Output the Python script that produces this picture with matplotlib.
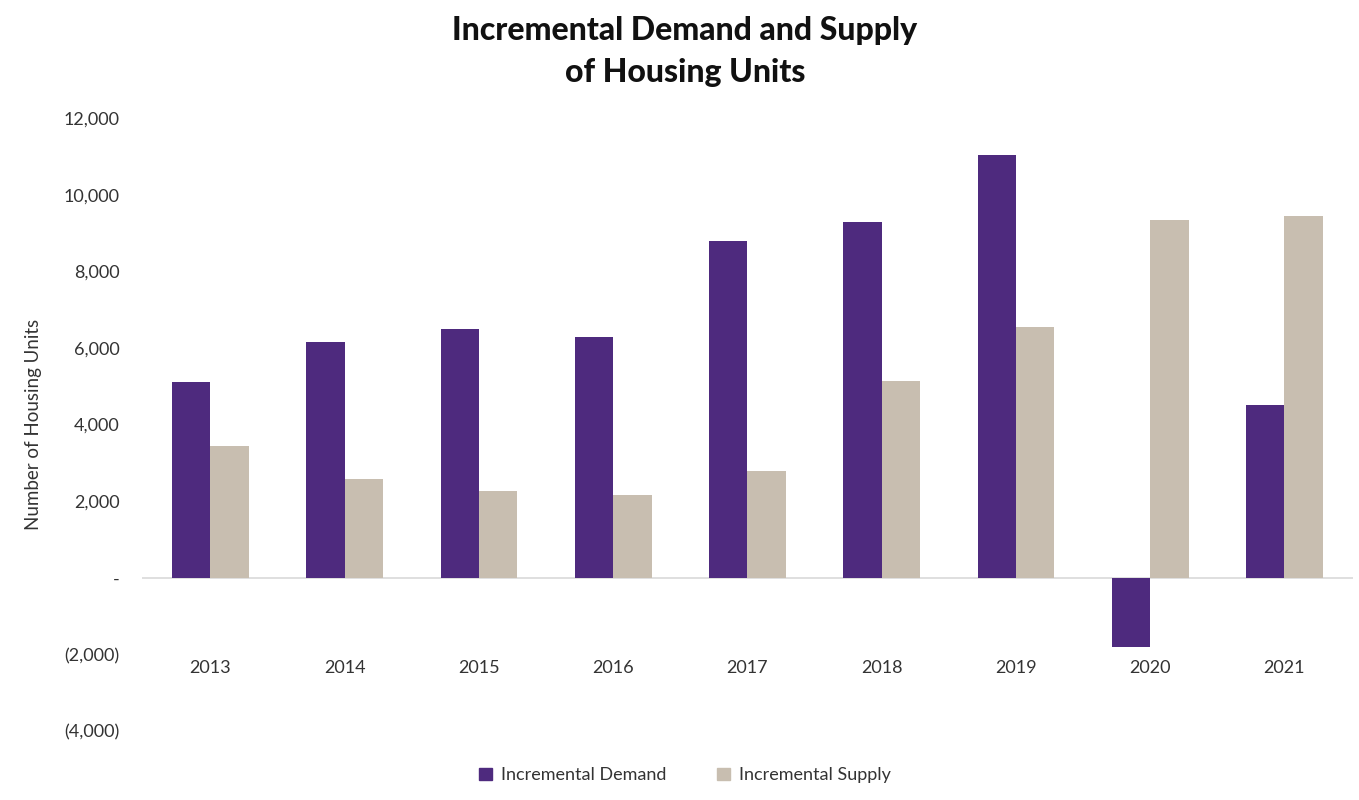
import matplotlib.pyplot as plt
import numpy as np
from matplotlib.patches import Patch

plt.rcParams['font.family'] = ['Lato', 'DejaVu Sans']

years = ['2013', '2014', '2015', '2016', '2017', '2018', '2019', '2020', '2021']
demand = [5100, 6150, 6500, 6300, 8800, 9300, 11050, -1800, 4500]
supply = [3450, 2580, 2270, 2150, 2800, 5150, 6550, 9330, 9450]
y_ticks = [12000, 10000, 8000, 6000, 4000, 2000, 0, -2000, -4000]

DEMAND_COLOR = '#4E2A7E'
SUPPLY_COLOR = '#C8BEB0'

def fmt(v):
    if v == 0:
        return '-'
    if v < 0:
        return f'({abs(v):,})'
    return f'{v:,}'

fig = plt.figure(figsize=(13.59, 8), dpi=100)
ax = fig.add_axes([0.1045, 0.08625, 0.891, 0.766])

x = np.arange(len(years))
w = 0.286
ax.bar(x - w / 2, demand, width=w, color=DEMAND_COLOR, zorder=3)
ax.bar(x + w / 2, supply, width=w, color=SUPPLY_COLOR, zorder=3)
ax.axhline(0, color='#D9D9D9', linewidth=1.2, zorder=2)

ax.set_xlim(-0.51, len(years) - 0.49)
ax.set_ylim(-4000, 12000)
ax.set_yticks(y_ticks)
ax.set_yticklabels([fmt(v) for v in y_ticks], fontsize=13, color='#333333')
ax.tick_params(axis='y', length=0, pad=16)
ax.set_xticks([])
for s in ax.spines.values():
    s.set_visible(False)

for i, yr in enumerate(years):
    ax.text(i, -2350, yr, ha='center', va='center', fontsize=13, color='#333333')

ax.set_ylabel('Number of Housing Units', fontsize=13.5, color='#333333', labelpad=16)

fig.text(0.504, 0.962, 'Incremental Demand and Supply', ha='center', va='center',
         fontsize=23, fontweight='black', color='#111111')
fig.text(0.504, 0.909, 'of Housing Units', ha='center', va='center',
         fontsize=23, fontweight='black', color='#111111')

handles = [Patch(color=DEMAND_COLOR, label='Incremental Demand'),
           Patch(color=SUPPLY_COLOR, label='Incremental Supply')]
fig.legend(handles=handles, loc='center', bbox_to_anchor=(0.504, 0.031), ncol=2,
           frameon=False, fontsize=13, handlelength=0.7, handleheight=0.7,
           handletextpad=0.5, columnspacing=2.8, labelcolor='#333333')

fig.savefig('out.png', dpi=100)
